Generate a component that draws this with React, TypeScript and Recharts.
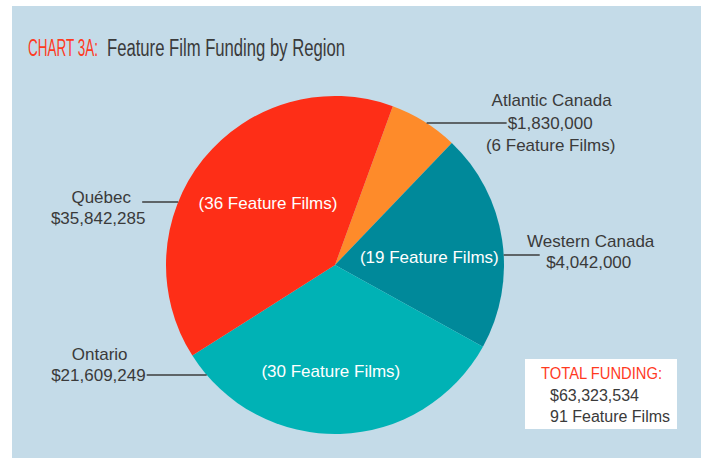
import React from 'react'
import { PieChart, Pie, Cell } from 'recharts'

const regions = ['Atlantic Canada', 'Western Canada', 'Ontario', 'Québec']
const filmCounts = [6, 19, 30, 36]
const funding = [1830000, 4042000, 21609249, 35842285]
const colors = ['#fe8b2a', '#00899a', '#00b2b5', '#fe2e17']

const data = regions.map((r, i) => ({ name: r, films: filmCounts[i], funding: funding[i] }))
const totalFunding = funding.reduce((a, b) => a + b, 0)
const totalFilms = filmCounts.reduce((a, b) => a + b, 0)

const money = (v: number) => '$' + v.toLocaleString('en-US')
const films = (n: number) => `(${n} Feature Films)`

// callout placement: side (+1 right, -1 left), line y from center, line length, text offsets from line end
const callouts = [
  { side: 1, dy: -142, len: 80, texts: [[45, -23, 'middle'], [1, 0, 'start'], [44, 22, 'middle']] },
  { side: 1, dy: -10, len: 36, texts: [[51, -14, 'middle'], [49, 7, 'middle']] },
  { side: -1, dy: 110, len: 60, texts: [[-47, -21, 'middle'], [-1, 0, 'end']] },
  { side: -1, dy: -63, len: 36, texts: [[-41, -5, 'middle'], [-44, 16, 'middle']] },
]
const innerPos = [null, 0.56, 0.63, 0.54]

const FONT = '"Liberation Sans", Arial, sans-serif'
const RAD = Math.PI / 180

const renderLabel = (props: any) => {
  const { cx, cy, midAngle, outerRadius, index } = props
  const d = data[index]
  const c = callouts[index]
  const edgeX = cx + c.side * Math.sqrt(outerRadius * outerRadius - c.dy * c.dy)
  const ly = cy + c.dy
  const endX = edgeX + c.side * c.len
  const lines = index === 0 ? [d.name, money(d.funding), films(d.films)] : [d.name, money(d.funding)]
  const ratio = innerPos[index]
  let inner = null
  if (ratio) {
    const a = (midAngle - 4) * RAD
    const ix = cx + outerRadius * ratio * Math.cos(-a)
    const iy = cy + outerRadius * ratio * Math.sin(-a)
    inner = (
      <text x={ix} y={iy} textAnchor="middle" dominantBaseline="central" fill="#fff" fontSize={17} fontFamily={FONT}>
        {films(d.films)}
      </text>
    )
  }
  return (
    <g>
      <line x1={edgeX} y1={ly} x2={endX} y2={ly} stroke="#3c3c3c" strokeWidth={1.5} />
      {lines.map((t, i) => (
        <text key={i} x={endX + (c.texts[i][0] as number)} y={ly + (c.texts[i][1] as number)}
          textAnchor={c.texts[i][2] as any} dominantBaseline="central" fill="#3a3a3a" fontSize={17} fontFamily={FONT}>
          {t}
        </text>
      ))}
      {inner}
    </g>
  )
}

// condensed text: scaled horizontally to a target width
const Narrow = ({ x, y, w, sx, size, fill, children }: any) => (
  <g transform={`translate(${x},${y}) scale(${sx},1)`}>
    <text x={0} y={0} dominantBaseline="central" fontSize={size} fontFamily={FONT} fill={fill}
      textLength={w / sx} lengthAdjust="spacingAndGlyphs">{children}</text>
  </g>
)

export default function App() {
  return (
    <div style={{ position: 'absolute', left: 0, top: 0, width: 704, height: 459, background: '#fff', overflow: 'hidden' }}>
      <div style={{ position: 'absolute', left: 12, top: 6, width: 689, height: 452, background: '#c4dbe8' }} />
      <div style={{ position: 'absolute', left: 0, top: 0 }}>
        <PieChart width={704} height={459} margin={{ top: 0, right: 0, bottom: 0, left: 0 }}>
          <Pie data={data} dataKey="films" nameKey="name" cx={335} cy={265} outerRadius={169}
            startAngle={70} endAngle={-290} stroke="none" label={renderLabel} labelLine={false}
            isAnimationActive={false}>
            {data.map((d, i) => <Cell key={d.name} fill={colors[i]} />)}
          </Pie>
        </PieChart>
      </div>
      <svg width={704} height={459} style={{ position: 'absolute', left: 0, top: 0, pointerEvents: 'none' }}>
        <Narrow x={28} y={48} w={70} sx={0.62} size={23} fill="#ff3a1f">CHART 3A:</Narrow>
        <Narrow x={107} y={48} w={238} sx={0.73} size={23} fill="#3a3a3a">Feature Film Funding by Region</Narrow>
        <rect x={525} y={359} width={152} height={70} fill="#fff" />
        <Narrow x={541} y={374} w={121} sx={0.85} size={16} fill="#ff3a1f">TOTAL FUNDING:</Narrow>
        <text x={550} y={395} dominantBaseline="central" fontSize={16} fontFamily={FONT} fill="#3a3a3a">{money(totalFunding)}</text>
        <text x={550} y={416} dominantBaseline="central" fontSize={16} fontFamily={FONT} fill="#3a3a3a">{totalFilms} Feature Films</text>
      </svg>
    </div>
  )
}
